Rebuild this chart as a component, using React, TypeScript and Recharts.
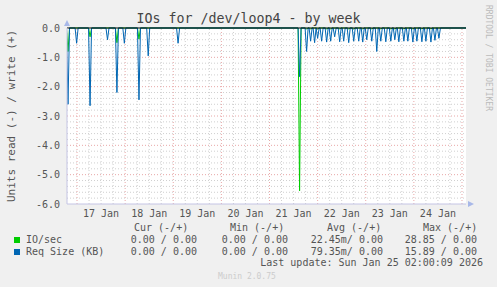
import React from "react";
import { LineChart, Line, XAxis, YAxis, ReferenceLine } from "recharts";

// hours since 17 Jan 00:00
const spikeHours = [
  -4.5, -0.2, 6.5, 15.2, 19.9, 23.6, 30.9, 35.5, 50.4, 111, 114.5,
  116.5, 118.5, 120, 122, 124.5, 126.5, 128.5, 131, 133, 135.5, 138, 140.5, 142.5, 144.5, 147,
  149.5, 151.5, 154, 156.5, 158.5, 160.5, 163, 165, 167.5, 169.5, 172, 174, 176.5, 178.5, 180.5,
];
const reqSizeRead = [
  -2.6, -0.52, -2.65, -0.4, -2.2, -0.52, -2.45, -0.95, -0.52, -1.66, -0.8,
  -0.45, -0.5, -0.35, -0.45, -0.48, -0.45, -0.3, -0.47, -0.45, -0.5, -0.45, -0.45, -0.48, -0.4, -0.45,
  -0.8, -0.45, -0.47, -0.45, -0.4, -0.47, -0.45, -0.45, -0.48, -0.45, -0.47, -0.45, -0.48, -0.42, -0.35,
];
const ioSecRead = [
  -0.8, 0, -0.3, 0, -0.5, 0, -0.38, 0, 0, -5.55, -0.03,
  -0.03, 0, -0.03, 0, -0.03, -0.03, 0, -0.03, 0, -0.03, -0.03, 0, -0.03, 0, -0.03,
  0, -0.03, 0, -0.03, -0.03, 0, -0.03, 0, -0.03, 0, -0.03, 0, -0.03, 0, 0,
];

const yTicks = [0, -1, -2, -3, -4, -5, -6];
const dayTicks = [12, 36, 60, 84, 108, 132, 156, 180];
const dayLabels = ["17 Jan", "18 Jan", "19 Jan", "20 Jan", "21 Jan", "22 Jan", "23 Jan", "24 Jan"];
const majorX = [0, 24, 48, 72, 96, 120, 144, 168, 192];
const minorX = [6, 12, 18, 30, 36, 42, 54, 60, 66, 78, 84, 90, 102, 108, 114, 126, 132, 138, 150, 156, 162, 174, 180, 186];
const minorY = Array.from({ length: 30 }, (_, i) => -(i + 1) * 0.2).filter((v) => Math.abs(v - Math.round(v)) > 0.01);

const legendRows = [
  { name: "IO/sec", color: "#00CC00", cur: "0.00 / 0.00", min: "0.00 / 0.00", avg: "22.45m/ 0.00", max: "28.85 / 0.00" },
  { name: "Req Size (KB)", color: "#0066B3", cur: "0.00 / 0.00", min: "0.00 / 0.00", avg: "79.35m/ 0.00", max: "15.89 / 0.00" },
];

const T0 = -5;
const T1 = 194;

function buildSeries(values: number[]) {
  const pts: { t: number; v: number }[] = [{ t: T0, v: 0 }];
  spikeHours.forEach((h, i) => {
    pts.push({ t: h - 0.75, v: 0 }, { t: h, v: values[i] }, { t: h + 0.75, v: 0 });
  });
  pts.push({ t: T1, v: 0 });
  return pts;
}

const FONT = "'DejaVu Sans Mono', monospace";
const txt = (extra: React.CSSProperties): React.CSSProperties => ({
  position: "absolute",
  fontFamily: FONT,
  fontSize: 10,
  lineHeight: "10px",
  color: "#555",
  whiteSpace: "pre",
  ...extra,
});

export default function App() {
  return (
    <div style={{ position: "absolute", left: 0, top: 0, width: 497, height: 287, background: "#F0F0F0", overflow: "hidden" }}>
      <div style={txt({ left: 0, width: 497, top: 12, fontSize: 13.3, lineHeight: "14px", textAlign: "center", color: "#444" })}>
        IOs for /dev/loop4 - by week
      </div>
      <div style={txt({ left: 12 - 100, width: 200, top: 116 - 6, fontSize: 11, lineHeight: "12px", textAlign: "center", transform: "rotate(-90deg)" })}>
        Units read (-) / write (+)
      </div>
      <div style={txt({ left: 488 - 60, width: 120, top: 58 - 4, fontSize: 8, lineHeight: "8px", textAlign: "center", color: "#bbb", transform: "rotate(90deg)" })}>
        RRDTOOL / TOBI OETIKER
      </div>

      <div style={{ position: "absolute", left: 0, top: 0 }}>
        <LineChart width={497} height={287} data={[]} margin={{ top: 28, right: 31, bottom: 63, left: 7 }}>
          <rect x={67} y={28} width={399} height={176} fill="#FFFFFF" />
          <XAxis
            type="number"
            dataKey="t"
            domain={[T0, T1]}
            allowDataOverflow
            ticks={dayTicks}
            height={20}
            tickLine={false}
            tickSize={0}
            tickMargin={0}
            axisLine={{ stroke: "#c4c4e4" }}
            tick={(p: any) => (
              <text x={p.x} y={p.y + 9} textAnchor="middle" dominantBaseline="central" fontFamily={FONT} fontSize={10} fill="#555">
                {dayLabels[dayTicks.indexOf(p.payload.value)]}
              </text>
            )}
          />
          <YAxis
            type="number"
            domain={[-6, 0]}
            ticks={yTicks}
            width={60}
            tickLine={false}
            tickSize={0}
            tickMargin={0}
            axisLine={{ stroke: "#c4c4e4" }}
            tick={(p: any) => (
              <text x={p.x - 7} y={p.y} textAnchor="end" dominantBaseline="central" fontFamily={FONT} fontSize={10} fill="#555">
                {p.payload.value.toFixed(1)}
              </text>
            )}
          />
          {minorY.map((v) => (
            <ReferenceLine key={"my" + v} y={v} stroke="#cfcfcf" strokeDasharray="1 2" />
          ))}
          {minorX.map((v) => (
            <ReferenceLine key={"mx" + v} x={v} stroke="#cfcfcf" strokeDasharray="1 2" />
          ))}
          {yTicks.slice(1, 6).map((v) => (
            <ReferenceLine key={"My" + v} y={v} stroke="#e8a8a8" strokeDasharray="1 2" />
          ))}
          {majorX.map((v) => (
            <ReferenceLine key={"Mx" + v} x={v} stroke="#e8a8a8" strokeDasharray="1 2" />
          ))}
          <Line data={buildSeries(ioSecRead)} dataKey="v" stroke="#00CC00" strokeWidth={1} dot={false} isAnimationActive={false} type="linear" />
          <Line data={buildSeries(reqSizeRead)} dataKey="v" stroke="#0066B3" strokeWidth={1} dot={false} isAnimationActive={false} type="linear" />
          <ReferenceLine y={0} stroke="#000000" strokeWidth={1} />
        </LineChart>
      </div>

      <svg style={{ position: "absolute", left: 0, top: 0 }} width={497} height={287}>
        <polygon points="64,26 70,26 67,20" fill="#a8b8e8" />
        <polygon points="468,201 468,207 474,204" fill="#a8b8e8" />
      </svg>

      <div style={txt({ left: 134, top: 223 })}>Cur (-/+)</div>
      <div style={txt({ left: 230, top: 223 })}>Min (-/+)</div>
      <div style={txt({ left: 327, top: 223 })}>Avg (-/+)</div>
      <div style={txt({ left: 423, top: 223 })}>Max (-/+)</div>
      {legendRows.map((r, i) => {
        const top = 235 + i * 11.5;
        return (
          <React.Fragment key={r.name}>
            <div style={{ position: "absolute", left: 14, top: top + 2, width: 6, height: 6, background: r.color }} />
            <div style={txt({ left: 26, top })}>{r.name}</div>
            <div style={txt({ left: 97, width: 100, top, textAlign: "right" })}>{r.cur}</div>
            <div style={txt({ left: 188, width: 100, top, textAlign: "right" })}>{r.min}</div>
            <div style={txt({ left: 283, width: 100, top, textAlign: "right" })}>{r.avg}</div>
            <div style={txt({ left: 377, width: 100, top, textAlign: "right" })}>{r.max}</div>
          </React.Fragment>
        );
      })}
      <div style={txt({ left: 183, width: 300, top: 258, textAlign: "right" })}>Last update: Sun Jan 25 02:00:09 2026</div>
      <div style={txt({ left: 218, top: 273, fontSize: 8, lineHeight: "8px", color: "#ccc" })}>Munin 2.0.75</div>
    </div>
  );
}
